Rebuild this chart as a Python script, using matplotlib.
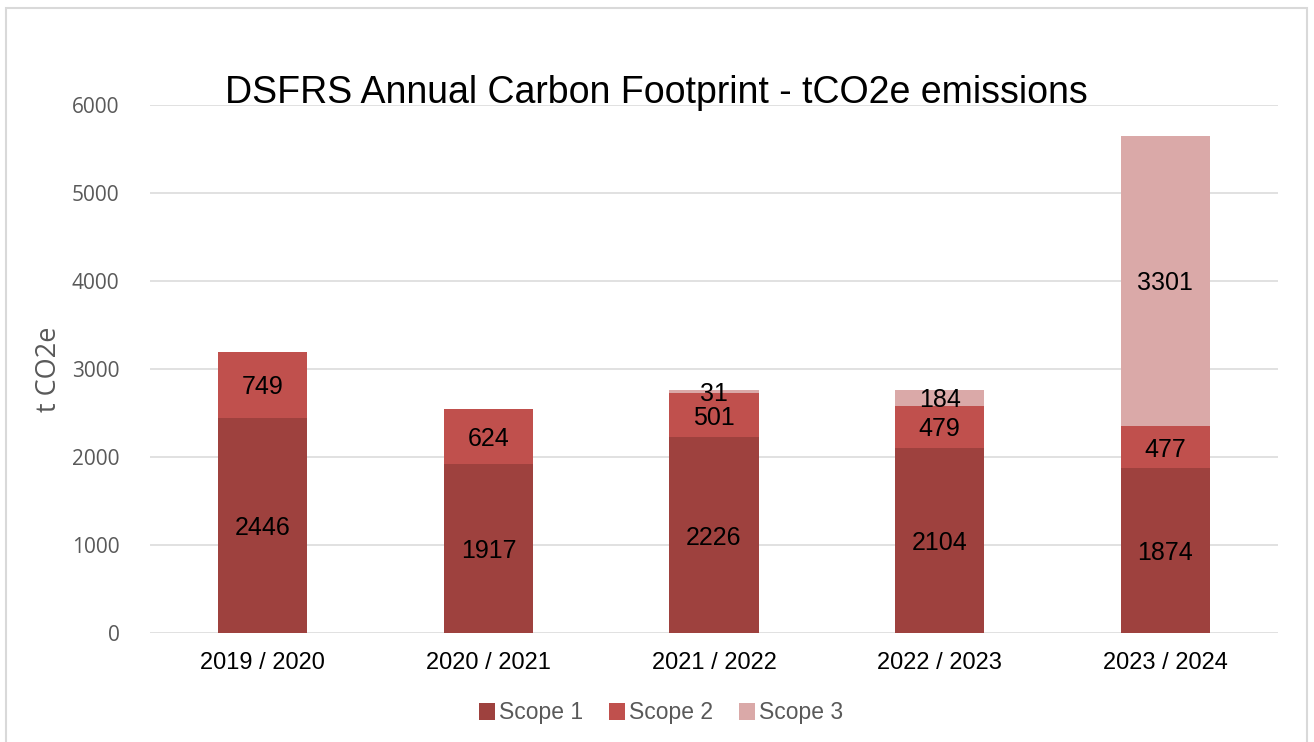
import matplotlib
matplotlib.use("Agg")
from matplotlib import pyplot as plt
from matplotlib.patches import Rectangle, Patch

years = ["2019 / 2020", "2020 / 2021", "2021 / 2022", "2022 / 2023", "2023 / 2024"]
scope1 = [2446, 1917, 2226, 2104, 1874]
scope2 = [749, 624, 501, 479, 477]
scope3 = [0, 0, 31, 184, 3301]

colours = ["#9E413E", "#C0504D", "#DAA9A8"]
names = ["Scope 1", "Scope 2", "Scope 3"]

fig = plt.figure(figsize=(13.14, 7.42), dpi=100)
ax = fig.add_axes([150 / 1314, 109 / 742, 1128 / 1314, 528 / 742])

# light frame round the whole chart
fig.patches.append(Rectangle((6 / 1314, -0.02), 1301 / 1314, 1.02 - 8 / 742,
                             transform=fig.transFigure, fill=False,
                             edgecolor="#D9D9D9", linewidth=1.5))

x = list(range(len(years)))
w = 0.395
bottom = [0] * len(years)
for vals, col in zip([scope1, scope2, scope3], colours):
    ax.bar(x, vals, w, bottom=bottom, color=col, zorder=3)
    for i, v in enumerate(vals):
        if v > 0:
            ax.text(x[i], bottom[i] + v / 2, str(v), ha="center", va="center_baseline",
                    fontsize=18, family="Liberation Sans", color="black", zorder=4)
    bottom = [b + v for b, v in zip(bottom, vals)]

ax.set_xlim(-0.5, 4.5)
ax.set_ylim(0, 6000)
ax.set_yticks(range(0, 6001, 1000))
ax.yaxis.grid(True, color="#D9D9D9", linewidth=1.1, zorder=0)
for s in ax.spines.values():
    s.set_visible(False)
ax.tick_params(length=0)
ax.tick_params(axis="y", pad=22, labelsize=15, labelcolor="#595959")
ax.tick_params(axis="x", pad=14, labelsize=17)
for lab in ax.get_yticklabels():
    lab.set_family("Open Sans")
ax.set_xticks(x)
ax.set_xticklabels(years, family="Liberation Sans", color="black")

ax.set_ylabel("t CO2e", fontsize=19.5, family="Open Sans", color="#595959", labelpad=6)

fig.text(656 / 1314, 1 - 93 / 742, "DSFRS Annual Carbon Footprint - tCO2e emissions",
         ha="center", va="center", fontsize=27, family="Liberation Sans", color="black")

handles = [Patch(facecolor=c, edgecolor="none") for c in colours]
fig.legend(handles, names, loc="center", bbox_to_anchor=(661 / 1314, 1 - 713 / 742),
           ncol=3, frameon=False, handlelength=0.7, handleheight=0.7, handletextpad=0.2,
           columnspacing=1.1, prop={"family": "Liberation Sans", "size": 16.5},
           labelcolor="#595959")

fig.savefig("out.png", dpi=100)
